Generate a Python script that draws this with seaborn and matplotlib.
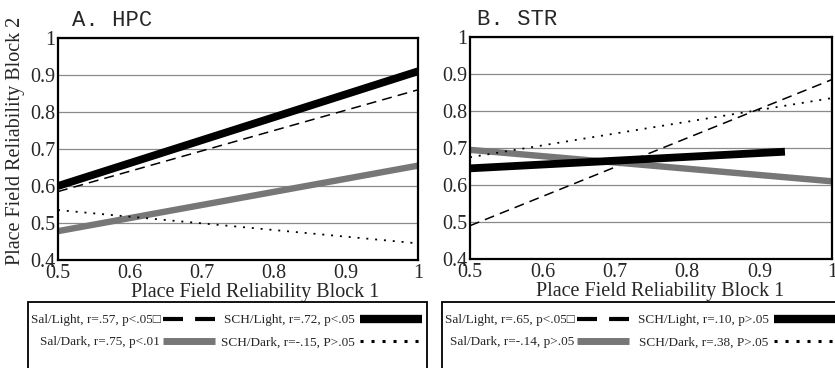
import numpy as np
import pandas as pd
import matplotlib
matplotlib.use("Agg")
import matplotlib.pyplot as plt
import seaborn as sns
from matplotlib.lines import Line2D
from matplotlib.patches import Rectangle

# regression lines, values read at the two ends of each line
hpc_x = [0.5, 1.0]
hpc_sal_light = [0.585, 0.86]
hpc_sal_dark = [0.478, 0.655]
hpc_sch_light = [0.600, 0.910]
hpc_sch_dark = [0.535, 0.445]

str_x = [0.5, 1.0]
str_sch_light_x = [0.5, 0.935]
str_sal_light = [0.490, 0.885]
str_sal_dark = [0.695, 0.610]
str_sch_light = [0.645, 0.690]
str_sch_dark = [0.675, 0.835]

hpc_labels = ["Sal/Light, r=.57, p<.05\u25a1", "Sal/Dark, r=.75, p<.01",
              "SCH/Light, r=.72, p<.05", "SCH/Dark, r=-.15, P>.05"]
str_labels = ["Sal/Light, r=.65, p<.05\u25a1", "Sal/Dark, r=-.14, p>.05",
              "SCH/Light, r=.10, p>.05", "SCH/Dark, r=.38, P>.05"]

sns.set_style("white")
plt.rcParams['font.family'] = ['Liberation Serif', 'DejaVu Sans']

W, H = 835, 368
GRAY = '#777777'
styles = {
    'Sal/Light': dict(color='black', lw=1.1, dashes=(6.5, 4)),
    'Sal/Dark': dict(color=GRAY, lw=4.6, dashes=None),
    'SCH/Light': dict(color='black', lw=5.6, dashes=None),
    'SCH/Dark': dict(color='black', lw=1.3, dashes=(1.1, 3.8)),
}


def handle(color, lw, dashes=None):
    h = Line2D([], [], color=color, lw=lw, solid_capstyle='butt',
               dash_capstyle='butt')
    if dashes is not None:
        h.set_dashes(dashes)
    return h


def legend_column(ax, handles, labels, right_px, top_px, hl_px, pad):
    fs = 9.5
    fs_px = fs * 100 / 72
    leg = ax.legend(handles, labels, loc='upper right',
                    bbox_to_anchor=(right_px / W, 1 - top_px / H),
                    bbox_transform=ax.figure.transFigure,
                    markerfirst=False, fontsize=fs, frameon=False,
                    borderpad=0, borderaxespad=0,
                    handlelength=hl_px / fs_px, handletextpad=pad,
                    labelspacing=0.75)
    return leg


def draw_panel(ax, series, title, title_dx, labels, show_ylabel, off, xl_x):
    for name, xs, ys in series:
        df = pd.DataFrame({'x': xs, 'y': ys})
        st = styles[name]
        sns.lineplot(data=df, x='x', y='y', ax=ax, color=st['color'],
                     lw=st['lw'], solid_capstyle='butt', dash_capstyle='butt')
        if st['dashes'] is not None:
            ax.lines[-1].set_dashes(st['dashes'])
    ax.set_xlim(0.5, 1.0)
    ax.set_ylim(0.4, 1.0)
    ax.set_xticks([0.5, 0.6, 0.7, 0.8, 0.9, 1.0])
    ax.set_xticklabels(['0.5', '0.6', '0.7', '0.8', '0.9', '1'])
    ax.set_yticks([0.4, 0.5, 0.6, 0.7, 0.8, 0.9, 1.0])
    ax.set_yticklabels(['0.4', '0.5', '0.6', '0.7', '0.8', '0.9', '1'])
    ax.tick_params(labelsize=14.5, length=0)
    ax.tick_params(axis='x', pad=3)
    ax.tick_params(axis='y', pad=2)
    ax.yaxis.grid(True, color='#8a8a8a', lw=0.9)
    ax.set_axisbelow(True)
    for s in ax.spines.values():
        s.set_visible(True)
        s.set_color('black')
        s.set_linewidth(1.6)
    ax.set_xlabel("Place Field Reliability Block 1", fontsize=14.5)
    ax.xaxis.set_label_coords(xl_x, -0.105)
    if show_ylabel:
        ax.set_ylabel("Place Field Reliability Block 2", fontsize=14.5)
        ax.yaxis.set_label_coords(-0.092, 0.535)
    else:
        ax.set_ylabel("")
    ax.text(title_dx, 1.03, title, transform=ax.transAxes, fontsize=16,
            family='Liberation Mono', ha='left', va='bottom')

    # legend: two columns, text first, handle on the right
    h1 = [handle('black', 3.0, (4.8, 2.9)), handle(GRAY, 5.0)]
    h2 = [handle('black', 6.0), handle('black', 2.2, (1, 2.6))]
    leg1 = legend_column(ax, h1, labels[:2], 215 + off, 314, 52, 0.2)
    ax.add_artist(leg1)
    legend_column(ax, h2, labels[2:], 422 + off, 314, 62, 0.4)
    ax.figure.add_artist(Rectangle(((28 + off) / W, 1 - 380 / H), 399 / W,
                                   78 / H, transform=ax.figure.transFigure,
                                   fill=False, ec='black', lw=1.3))


fig = plt.figure(figsize=(8.35, 3.68), dpi=100)
ax1 = fig.add_axes([58 / W, 1 - 260 / H, 360 / W, 222 / H])
ax2 = fig.add_axes([470 / W, 1 - 259 / H, 362 / W, 222 / H])

draw_panel(ax1, [('Sal/Light', hpc_x, hpc_sal_light),
                 ('Sal/Dark', hpc_x, hpc_sal_dark),
                 ('SCH/Light', hpc_x, hpc_sch_light),
                 ('SCH/Dark', hpc_x, hpc_sch_dark)],
           "A. HPC", 0.04, hpc_labels, True, 0, 0.547)
draw_panel(ax2, [('Sal/Light', str_x, str_sal_light),
                 ('Sal/Dark', str_x, str_sal_dark),
                 ('SCH/Light', str_sch_light_x, str_sch_light),
                 ('SCH/Dark', str_x, str_sch_dark)],
           "B. STR", 0.02, str_labels, False, 414, 0.525)

fig.savefig("out.png", dpi=100)
